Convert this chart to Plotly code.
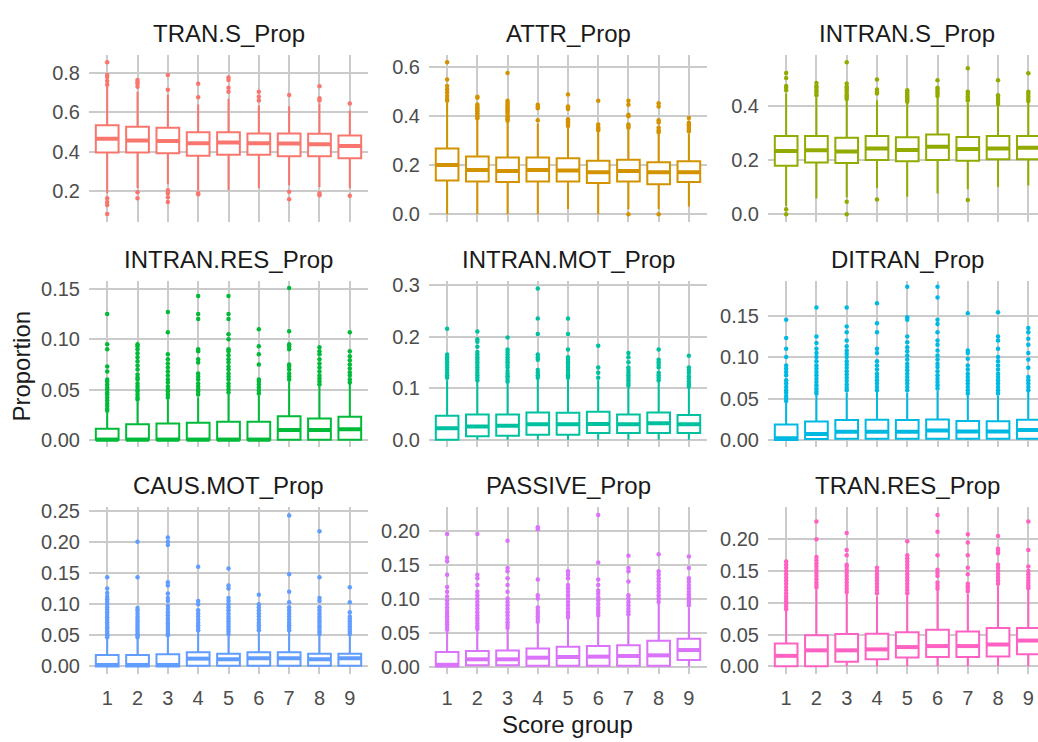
import plotly.graph_objects as go

# Score groups on the x axis
groups = [1, 2, 3, 4, 5, 6, 7, 8, 9]
group_labels = ["1", "2", "3", "4", "5", "6", "7", "8", "9"]

panel_names = ["TRAN.S_Prop", "ATTR_Prop", "INTRAN.S_Prop",
               "INTRAN.RES_Prop", "INTRAN.MOT_Prop", "DITRAN_Prop",
               "CAUS.MOT_Prop", "PASSIVE_Prop", "TRAN.RES_Prop"]
panel_colors = ["#F8766D", "#D39200", "#93AA00", "#00BA38", "#00C19F",
                "#00B9E3", "#619CFF", "#DB72FB", "#FF61C3"]

# ---- TRAN.S_Prop ----
trans_q1 = [0.397, 0.397, 0.393, 0.380, 0.385, 0.385, 0.377, 0.377, 0.368]
trans_med = [0.466, 0.458, 0.455, 0.443, 0.447, 0.443, 0.442, 0.438, 0.430]
trans_q3 = [0.535, 0.527, 0.522, 0.500, 0.500, 0.493, 0.493, 0.492, 0.483]
trans_lo = [0.190, 0.217, 0.235, 0.205, 0.205, 0.217, 0.230, 0.220, 0.215]
trans_hi = [0.730, 0.705, 0.690, 0.640, 0.670, 0.635, 0.632, 0.645, 0.610]
trans_out = [
    [0.085, 0.130, 0.145, 0.165, 0.740, 0.760, 0.780, 0.790, 0.855],
    [0.165, 0.195, 0.730, 0.745, 0.755, 0.765],
    [0.145, 0.170, 0.190, 0.205, 0.715, 0.790],
    [0.185, 0.190, 0.677, 0.745],
    [0.705, 0.725, 0.765, 0.777],
    [0.660, 0.680, 0.705],
    [0.160, 0.197, 0.688],
    [0.180, 0.190, 0.660, 0.672, 0.733],
    [0.177, 0.645],
]

# ---- ATTR_Prop ----
attr_q1 = [0.138, 0.134, 0.131, 0.134, 0.134, 0.127, 0.134, 0.122, 0.131]
attr_med = [0.201, 0.181, 0.176, 0.181, 0.178, 0.171, 0.176, 0.171, 0.171]
attr_q3 = [0.268, 0.236, 0.232, 0.232, 0.228, 0.218, 0.222, 0.212, 0.216]
attr_lo = [0.0, 0.0, 0.0, 0.0, 0.021, 0.0, 0.020, 0.021, 0.031]
attr_hi = [0.455, 0.385, 0.375, 0.370, 0.355, 0.340, 0.345, 0.330, 0.330]
attr_out = [
    [0.463, 0.470, 0.483, 0.497, 0.510, 0.524, 0.550, 0.621],
    [0.392, 0.398, 0.405, 0.412, 0.420, 0.426, 0.433, 0.440, 0.448, 0.476, 0.480],
    [0.382, 0.388, 0.395, 0.400, 0.410, 0.418, 0.425, 0.433, 0.440, 0.448,
     0.455, 0.463, 0.577],
    [0.384, 0.433, 0.440, 0.447],
    [0.360, 0.366, 0.372, 0.380, 0.388, 0.430, 0.437, 0.440, 0.489],
    [0.343, 0.350, 0.356, 0.366, 0.463],
    [0.0, 0.353, 0.360, 0.366, 0.400, 0.406, 0.447, 0.463],
    [0.0, 0.335, 0.343, 0.353, 0.375, 0.384, 0.440, 0.453],
    [0.339, 0.345, 0.352, 0.360, 0.366, 0.373, 0.393],
]

# ---- INTRAN.S_Prop ----
intrans_q1 = [0.179, 0.191, 0.189, 0.200, 0.195, 0.200, 0.197, 0.203, 0.203]
intrans_med = [0.233, 0.236, 0.231, 0.242, 0.237, 0.249, 0.240, 0.242, 0.245]
intrans_q3 = [0.288, 0.288, 0.282, 0.288, 0.284, 0.294, 0.285, 0.288, 0.288]
intrans_lo = [0.030, 0.058, 0.062, 0.097, 0.064, 0.076, 0.092, 0.100, 0.106]
intrans_hi = [0.445, 0.430, 0.420, 0.420, 0.410, 0.430, 0.410, 0.400, 0.410]
intrans_out = [
    [0.0, 0.018, 0.457, 0.466, 0.473, 0.502, 0.521],
    [0.439, 0.448, 0.456, 0.465, 0.472, 0.484],
    [0.0, 0.046, 0.425, 0.432, 0.439, 0.447, 0.457, 0.465, 0.470, 0.482, 0.560],
    [0.054, 0.445, 0.452, 0.460, 0.497],
    [0.415, 0.421, 0.428, 0.435, 0.442, 0.450, 0.457],
    [0.436, 0.445, 0.452, 0.460, 0.466, 0.494],
    [0.052, 0.419, 0.426, 0.434, 0.443, 0.452, 0.538],
    [0.406, 0.414, 0.421, 0.430, 0.439, 0.494],
    [0.417, 0.425, 0.434, 0.443, 0.452, 0.520],
]

# ---- INTRAN.RES_Prop ----
intranres_q1 = [0.0, 0.0, 0.0, 0.0, 0.0, 0.0, 0.0, 0.0, 0.0]
intranres_med = [0.0, 0.0, 0.0, 0.0, 0.0, 0.0, 0.0098, 0.0098, 0.0105]
intranres_q3 = [0.0110, 0.0154, 0.0163, 0.0170, 0.0180, 0.0180, 0.0235, 0.0212, 0.0229]
intranres_lo = [0.0, 0.0, 0.0, 0.0, 0.0, 0.0, 0.0, 0.0, 0.0]
intranres_hi = [0.027, 0.038, 0.040, 0.042, 0.045, 0.044, 0.058, 0.053, 0.056]
intranres_out = [
    [0.029, 0.031, 0.034, 0.036, 0.039, 0.042, 0.045, 0.047, 0.050, 0.052,
     0.055, 0.058, 0.060, 0.068, 0.073, 0.090, 0.095, 0.125],
    [0.040, 0.042, 0.045, 0.048, 0.050, 0.053, 0.056, 0.060, 0.062, 0.065,
     0.070, 0.074, 0.078, 0.082, 0.086, 0.090, 0.093, 0.095],
    [0.042, 0.045, 0.048, 0.050, 0.053, 0.057, 0.060, 0.064, 0.068, 0.072,
     0.076, 0.080, 0.085, 0.107, 0.127],
    [0.045, 0.048, 0.050, 0.053, 0.056, 0.060, 0.063, 0.066, 0.077, 0.080,
     0.088, 0.090, 0.120, 0.125, 0.143],
    [0.047, 0.050, 0.053, 0.056, 0.060, 0.063, 0.066, 0.070, 0.073, 0.077,
     0.080, 0.084, 0.088, 0.090, 0.100, 0.105, 0.120, 0.125, 0.143],
    [0.046, 0.049, 0.052, 0.055, 0.058, 0.060, 0.075, 0.085, 0.093, 0.110],
    [0.060, 0.063, 0.066, 0.070, 0.073, 0.075, 0.090, 0.093, 0.095, 0.108, 0.151],
    [0.055, 0.058, 0.061, 0.064, 0.068, 0.072, 0.076, 0.080, 0.085, 0.088, 0.092],
    [0.057, 0.060, 0.064, 0.067, 0.071, 0.075, 0.079, 0.083, 0.088, 0.107],
]

# ---- INTRAN.MOT_Prop ----
intranmot_q1 = [0.0, 0.0064, 0.0076, 0.0096, 0.0096, 0.0127, 0.0127, 0.0127, 0.0127]
intranmot_med = [0.0223, 0.0255, 0.0268, 0.0300, 0.0300, 0.0306, 0.0300, 0.0318, 0.0300]
intranmot_q3 = [0.0465, 0.0490, 0.0490, 0.0529, 0.0522, 0.0540, 0.0490, 0.0529, 0.0478]
intranmot_lo = [0.0, 0.0, 0.0, 0.0, 0.0, 0.0, 0.0, 0.0, 0.0]
intranmot_hi = [0.115, 0.112, 0.110, 0.118, 0.116, 0.115, 0.103, 0.112, 0.100]
intranmot_out = [
    [0.120, 0.125, 0.130, 0.135, 0.140, 0.145, 0.150, 0.155, 0.160, 0.165, 0.215],
    [0.115, 0.120, 0.125, 0.130, 0.135, 0.140, 0.145, 0.150, 0.155, 0.160,
     0.165, 0.170, 0.180, 0.190, 0.195, 0.210],
    [0.113, 0.118, 0.123, 0.128, 0.133, 0.140, 0.145, 0.150, 0.155, 0.160,
     0.165, 0.170, 0.175, 0.198],
    [0.120, 0.125, 0.130, 0.135, 0.155, 0.160, 0.165, 0.205, 0.235, 0.293],
    [0.120, 0.125, 0.130, 0.135, 0.140, 0.145, 0.150, 0.155, 0.160, 0.175,
     0.205, 0.235],
    [0.120, 0.130, 0.140, 0.182],
    [0.105, 0.110, 0.115, 0.120, 0.125, 0.130, 0.135, 0.140, 0.150, 0.160, 0.168],
    [0.115, 0.120, 0.125, 0.130, 0.140, 0.145, 0.150, 0.155, 0.175],
    [0.103, 0.108, 0.113, 0.118, 0.123, 0.130, 0.135, 0.140, 0.163],
]

# ---- DITRAN_Prop ----
ditran_q1 = [0.0, 0.0010, 0.0015, 0.0015, 0.0015, 0.0015, 0.0015, 0.0015, 0.0015]
ditran_med = [0.0020, 0.0072, 0.0100, 0.0100, 0.0100, 0.0113, 0.0102, 0.0102, 0.0120]
ditran_q3 = [0.0185, 0.0224, 0.0240, 0.0245, 0.0242, 0.0248, 0.0230, 0.0226, 0.0245]
ditran_lo = [0.0, 0.0, 0.0, 0.0, 0.0, 0.0, 0.0, 0.0, 0.0]
ditran_hi = [0.045, 0.054, 0.057, 0.058, 0.057, 0.059, 0.054, 0.053, 0.058]
ditran_out = [
    [0.047, 0.050, 0.053, 0.057, 0.060, 0.064, 0.068, 0.072, 0.078, 0.082,
     0.086, 0.090, 0.100, 0.110, 0.123, 0.145],
    [0.056, 0.059, 0.062, 0.066, 0.070, 0.074, 0.078, 0.082, 0.086, 0.090,
     0.095, 0.100, 0.105, 0.110, 0.117, 0.125, 0.160],
    [0.060, 0.063, 0.067, 0.071, 0.075, 0.079, 0.083, 0.087, 0.091, 0.095,
     0.100, 0.104, 0.108, 0.113, 0.120, 0.130, 0.137, 0.160],
    [0.060, 0.064, 0.068, 0.072, 0.076, 0.080, 0.085, 0.090, 0.095, 0.105,
     0.110, 0.130, 0.141, 0.165],
    [0.060, 0.064, 0.068, 0.072, 0.076, 0.080, 0.084, 0.088, 0.092, 0.097,
     0.102, 0.107, 0.112, 0.118, 0.125, 0.145, 0.148, 0.185],
    [0.062, 0.066, 0.070, 0.074, 0.078, 0.083, 0.088, 0.092, 0.097, 0.102,
     0.108, 0.115, 0.120, 0.130, 0.140, 0.145, 0.172, 0.185],
    [0.056, 0.060, 0.064, 0.068, 0.072, 0.076, 0.080, 0.085, 0.090, 0.098,
     0.105, 0.108, 0.153],
    [0.056, 0.060, 0.064, 0.068, 0.072, 0.076, 0.080, 0.085, 0.090, 0.095,
     0.100, 0.110, 0.120, 0.125, 0.154],
    [0.060, 0.064, 0.068, 0.072, 0.076, 0.087, 0.097, 0.105, 0.115, 0.122,
     0.130, 0.135],
]

# ---- CAUS.MOT_Prop ----
causmot_q1 = [0.0, 0.0, 0.0, 0.001, 0.001, 0.001, 0.001, 0.001, 0.001]
causmot_med = [0.0025, 0.0025, 0.0025, 0.0126, 0.0116, 0.0132, 0.0132, 0.0116, 0.0132]
causmot_q3 = [0.0184, 0.0184, 0.0195, 0.0230, 0.0205, 0.0230, 0.0230, 0.0205, 0.0205]
causmot_lo = [0.0, 0.0, 0.0, 0.0, 0.0, 0.0, 0.0, 0.0, 0.0]
causmot_hi = [0.045, 0.045, 0.048, 0.056, 0.050, 0.056, 0.056, 0.050, 0.050]
causmot_out = [
    [0.047, 0.050, 0.053, 0.056, 0.060, 0.063, 0.067, 0.071, 0.075, 0.079,
     0.083, 0.087, 0.091, 0.095, 0.100, 0.104, 0.108, 0.112, 0.118, 0.125, 0.143],
    [0.047, 0.050, 0.053, 0.057, 0.060, 0.064, 0.068, 0.072, 0.076, 0.080,
     0.085, 0.090, 0.094, 0.143, 0.200],
    [0.050, 0.053, 0.057, 0.061, 0.065, 0.069, 0.073, 0.077, 0.082, 0.087,
     0.092, 0.097, 0.105, 0.110, 0.117, 0.130, 0.135, 0.195, 0.200, 0.207],
    [0.058, 0.062, 0.066, 0.070, 0.075, 0.080, 0.085, 0.090, 0.100, 0.105, 0.160],
    [0.052, 0.056, 0.060, 0.064, 0.068, 0.072, 0.076, 0.080, 0.085, 0.090,
     0.095, 0.100, 0.105, 0.110, 0.125, 0.130, 0.157],
    [0.058, 0.062, 0.066, 0.070, 0.075, 0.080, 0.085, 0.090, 0.095, 0.100, 0.115],
    [0.058, 0.062, 0.066, 0.070, 0.075, 0.080, 0.085, 0.090, 0.095, 0.103,
     0.120, 0.148, 0.242],
    [0.052, 0.056, 0.060, 0.064, 0.068, 0.072, 0.076, 0.080, 0.085, 0.090,
     0.095, 0.105, 0.110, 0.143, 0.217],
    [0.052, 0.056, 0.060, 0.064, 0.068, 0.072, 0.076, 0.080, 0.087, 0.103, 0.127],
]

# ---- PASSIVE_Prop ----
passive_q1 = [0.0, 0.002, 0.002, 0.001, 0.001, 0.001, 0.001, 0.001, 0.0097]
passive_med = [0.0025, 0.0106, 0.0106, 0.0130, 0.0140, 0.0145, 0.0155, 0.0164, 0.0242]
passive_q3 = [0.0213, 0.0227, 0.0237, 0.0266, 0.0290, 0.0300, 0.0314, 0.0380, 0.0410]
passive_lo = [0.0, 0.0, 0.0, 0.0, 0.0, 0.0, 0.0, 0.0, 0.0]
passive_hi = [0.052, 0.053, 0.055, 0.064, 0.070, 0.072, 0.075, 0.092, 0.087]
passive_out = [
    [0.054, 0.058, 0.062, 0.066, 0.070, 0.074, 0.078, 0.082, 0.087, 0.092,
     0.097, 0.103, 0.110, 0.117, 0.135, 0.155, 0.160, 0.195],
    [0.055, 0.059, 0.063, 0.067, 0.071, 0.075, 0.080, 0.085, 0.090, 0.095,
     0.100, 0.105, 0.110, 0.120, 0.130, 0.135, 0.195],
    [0.057, 0.061, 0.065, 0.070, 0.075, 0.080, 0.085, 0.090, 0.095, 0.100,
     0.110, 0.120, 0.130, 0.140, 0.145, 0.185],
    [0.066, 0.070, 0.074, 0.078, 0.082, 0.087, 0.100, 0.105, 0.128, 0.202, 0.205],
    [0.072, 0.076, 0.080, 0.085, 0.090, 0.095, 0.100, 0.105, 0.110, 0.115,
     0.120, 0.130, 0.135, 0.140],
    [0.075, 0.079, 0.083, 0.087, 0.092, 0.097, 0.102, 0.107, 0.112, 0.120,
     0.128, 0.153, 0.223],
    [0.077, 0.081, 0.085, 0.090, 0.095, 0.100, 0.105, 0.125, 0.140, 0.145, 0.163],
    [0.095, 0.100, 0.105, 0.110, 0.115, 0.120, 0.125, 0.130, 0.135, 0.140, 0.165],
    [0.090, 0.094, 0.098, 0.102, 0.106, 0.110, 0.115, 0.120, 0.125, 0.130,
     0.145, 0.162],
]

# ---- TRAN.RES_Prop ----
tranres_q1 = [0.0, 0.0, 0.0072, 0.0113, 0.0139, 0.0149, 0.0149, 0.0154, 0.0190]
tranres_med = [0.0165, 0.0252, 0.0252, 0.0267, 0.0303, 0.0319, 0.0319, 0.0344, 0.0406]
tranres_q3 = [0.0360, 0.0488, 0.0510, 0.0514, 0.0535, 0.0576, 0.0550, 0.0602, 0.0602]
tranres_lo = [0.0, 0.0, 0.0, 0.0, 0.0, 0.0, 0.0, 0.0, 0.0]
tranres_hi = [0.088, 0.120, 0.115, 0.110, 0.112, 0.120, 0.114, 0.126, 0.120]
tranres_out = [
    [0.090, 0.094, 0.098, 0.102, 0.106, 0.110, 0.115, 0.120, 0.125, 0.130,
     0.135, 0.140, 0.145, 0.150, 0.155, 0.160, 0.165],
    [0.124, 0.128, 0.132, 0.137, 0.142, 0.147, 0.152, 0.157, 0.162, 0.167,
     0.172, 0.200, 0.228],
    [0.117, 0.122, 0.127, 0.132, 0.137, 0.142, 0.147, 0.152, 0.157, 0.160,
     0.175, 0.183, 0.210],
    [0.115, 0.120, 0.125, 0.130, 0.135, 0.140, 0.145, 0.150, 0.155],
    [0.115, 0.120, 0.125, 0.130, 0.135, 0.140, 0.145, 0.150, 0.155, 0.160,
     0.165, 0.170, 0.175, 0.197],
    [0.122, 0.127, 0.132, 0.142, 0.147, 0.152, 0.175, 0.212, 0.238],
    [0.118, 0.122, 0.126, 0.130, 0.145, 0.155, 0.175, 0.195, 0.208],
    [0.130, 0.135, 0.140, 0.145, 0.150, 0.155, 0.160, 0.178, 0.182, 0.185, 0.205],
    [0.123, 0.127, 0.131, 0.135, 0.140, 0.145, 0.150, 0.157, 0.183, 0.228],
]

# Y tick values per panel
yticks = [
    [0.2, 0.4, 0.6, 0.8],
    [0.0, 0.2, 0.4, 0.6],
    [0.0, 0.2, 0.4],
    [0.00, 0.05, 0.10, 0.15],
    [0.0, 0.1, 0.2, 0.3],
    [0.00, 0.05, 0.10, 0.15],
    [0.00, 0.05, 0.10, 0.15, 0.20, 0.25],
    [0.00, 0.05, 0.10, 0.15, 0.20],
    [0.00, 0.05, 0.10, 0.15, 0.20],
]
ytick_fmt = ["%.1f", "%.1f", "%.1f", "%.2f", "%.1f", "%.2f", "%.2f", "%.2f", "%.2f"]
yranges = [
    [0.045, 0.890], [-0.031, 0.649], [-0.028, 0.586],
    [-0.0075, 0.158], [-0.015, 0.308], [-0.009, 0.192],
    [-0.012, 0.255], [-0.011, 0.234], [-0.012, 0.250],
]

panels = [
    (trans_q1, trans_med, trans_q3, trans_lo, trans_hi, trans_out),
    (attr_q1, attr_med, attr_q3, attr_lo, attr_hi, attr_out),
    (intrans_q1, intrans_med, intrans_q3, intrans_lo, intrans_hi, intrans_out),
    (intranres_q1, intranres_med, intranres_q3, intranres_lo, intranres_hi, intranres_out),
    (intranmot_q1, intranmot_med, intranmot_q3, intranmot_lo, intranmot_hi, intranmot_out),
    (ditran_q1, ditran_med, ditran_q3, ditran_lo, ditran_hi, ditran_out),
    (causmot_q1, causmot_med, causmot_q3, causmot_lo, causmot_hi, causmot_out),
    (passive_q1, passive_med, passive_q3, passive_lo, passive_hi, passive_out),
    (tranres_q1, tranres_med, tranres_q3, tranres_lo, tranres_hi, tranres_out),
]

W, H = 1038, 742
BOX_W = 0.75
FONT = "Liberation Sans, Arial, sans-serif"
GRID = "#cbcbcb"

# panel geometry in pixels (left, right) per column and (top, bottom) per row
col_px = [(89, 368), (429, 707), (768, 1038)]
col_center_px = [228.5, 568, 907]
row_px = [(48, 217), (277, 446), (507, 676)]
xranges = [[0.4, 9.6], [0.4, 9.6], [0.4, 9.32]]

fig = go.Figure()
layout = dict(
    width=W, height=H,
    margin=dict(l=0, r=0, t=0, b=0),
    paper_bgcolor="white", plot_bgcolor="white",
    showlegend=False,
    font=dict(family=FONT, color="#4d4d4d"),
)
annotations = []

for i, (q1, med, q3, lo, hi, out) in enumerate(panels):
    r, c = divmod(i, 3)
    n = i + 1
    xa = "x" if n == 1 else f"x{n}"
    ya = "y" if n == 1 else f"y{n}"
    color = panel_colors[i]

    fig.add_trace(go.Box(
        x=groups, q1=q1, median=med, q3=q3,
        lowerfence=lo, upperfence=hi,
        width=BOX_W, whiskerwidth=0,
        fillcolor="white", line=dict(color=color, width=2),
        boxpoints=False, xaxis=xa, yaxis=ya, hoverinfo="skip",
    ))

    # thicker median bar, as in ggplot boxplots
    mx, my = [], []
    for g, m in zip(groups, med):
        mx += [g - BOX_W / 2, g + BOX_W / 2, None]
        my += [m, m, None]
    fig.add_trace(go.Scatter(
        x=mx, y=my, mode="lines", line=dict(color=color, width=4),
        xaxis=xa, yaxis=ya, hoverinfo="skip",
    ))

    # outlying points
    ox, oy = [], []
    for g, pts in zip(groups, out):
        ox += [g] * len(pts)
        oy += pts
    fig.add_trace(go.Scatter(
        x=ox, y=oy, mode="markers",
        marker=dict(color=color, size=4.5, line=dict(width=0)),
        xaxis=xa, yaxis=ya, hoverinfo="skip",
    ))

    x0, x1 = col_px[c]
    y0, y1 = row_px[r]
    layout["xaxis" if n == 1 else f"xaxis{n}"] = dict(
        domain=[x0 / W, x1 / W], anchor=ya, range=xranges[c],
        tickvals=groups, ticktext=group_labels,
        showticklabels=(r == 2),
        tickfont=dict(size=20, color="#4d4d4d"),
        ticks="", ticklabelstandoff=10,
        showgrid=True, gridcolor=GRID, gridwidth=2,
        zeroline=False, showline=False, fixedrange=True,
    )
    layout["yaxis" if n == 1 else f"yaxis{n}"] = dict(
        domain=[1 - y1 / H, 1 - y0 / H], anchor=xa, range=yranges[i],
        tickvals=yticks[i], ticktext=[ytick_fmt[i] % v for v in yticks[i]],
        tickfont=dict(size=20, color="#4d4d4d"),
        ticks="", ticklabelstandoff=8,
        showgrid=True, gridcolor=GRID, gridwidth=2,
        zeroline=False, showline=False, fixedrange=True,
    )

    annotations.append(dict(
        text=panel_names[i], xref="paper", yref="paper",
        x=col_center_px[c] / W, y=1 - (y0 - 22) / H,
        xanchor="center", yanchor="middle", showarrow=False,
        font=dict(size=24, color="#1a1a1a", family=FONT),
    ))

annotations.append(dict(
    text="Score group", xref="paper", yref="paper",
    x=567.5 / W, y=1 - 727 / H, xanchor="center", yanchor="middle",
    showarrow=False, font=dict(size=24, color="#1a1a1a", family=FONT),
))
annotations.append(dict(
    text="Proportion", xref="paper", yref="paper",
    x=22 / W, y=1 - 364 / H, xanchor="center", yanchor="middle",
    textangle=-90, showarrow=False,
    font=dict(size=24, color="#1a1a1a", family=FONT),
))
layout["annotations"] = annotations

fig.update_layout(**layout)
fig.write_html("out.html")
